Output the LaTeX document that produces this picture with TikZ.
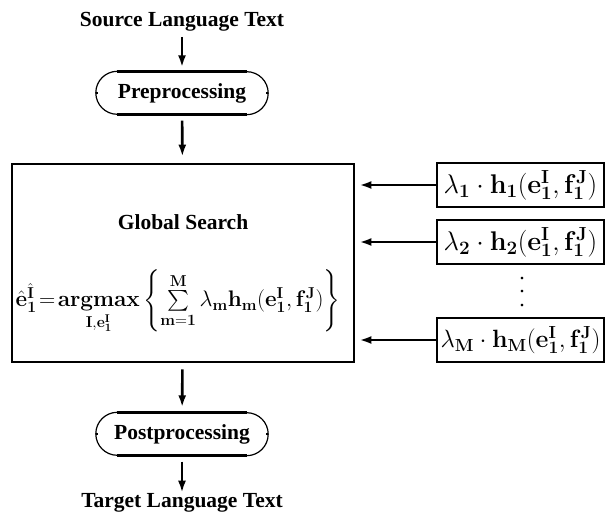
\RequirePackage{fix-cm}
\documentclass[tikz,border=0pt]{standalone}
\usepackage{amsmath}
\usepackage[no-math]{fontspec}
\setmainfont{Liberation Serif}
\usetikzlibrary{arrows.meta}
\newcommand{\bb}[1]{\mathbf{#1}}
\newcommand{\eI}{\bb{e}_{\bb{1}}^{\bb{I}}}
\newcommand{\fJ}{\bb{f}_{\bb{1}}^{\bb{J}}}
\begin{document}
\begin{tikzpicture}[x=1pt,y=1pt,
  lbl/.style={font=\fontsize{21.5}{24}\selectfont\bfseries, inner sep=3pt},
  mth/.style={font=\fontsize{27}{30}\selectfont, inner sep=0pt},
  bigm/.style={font=\fontsize{22.5}{26}\selectfont, inner sep=0pt},
  box/.style={draw, line width=2.8pt},
  fbox/.style={box, minimum width=167pt, minimum height=44pt, inner sep=0pt, mth},
  pill/.style={font=\fontsize{21.5}{24}\selectfont\bfseries, minimum width=172pt, minimum height=43pt, inner sep=0pt},
  arr/.style={line width=2.6pt, -{Latex[length=12pt,width=8pt]}},
  thinl/.style={line width=1.2pt},
  thickl/.style={line width=2.8pt}
]
\useasboundingbox (0,0) rectangle (606,514);

% texts
\node[lbl, anchor=base] (src) at (182,487) {Source Language Text};
\node[lbl, anchor=base] (tgt) at (182,6) {Target Language Text};

% pills
\node[pill] (pre) at (182,421) {Preprocessing};
\node[pill] (post) at (182,80) {Postprocessing};
\foreach \n in {pre,post}{
  \draw[thickl] ([xshift=21.5pt]\n.north west) -- ([xshift=-21.5pt]\n.north east);
  \draw[thickl] ([xshift=21.5pt]\n.south west) -- ([xshift=-21.5pt]\n.south east);
  \draw[thinl] ([xshift=21.5pt]\n.north west) arc (90:270:21.5pt);
  \draw[thinl] ([xshift=-21.5pt]\n.south east) arc (-90:90:21.5pt);
  \draw[thinl] (\n.west) -- ++(2,0);
  \draw[thinl] (\n.east) -- ++(-2,0);
}

% global search box
\node[box, minimum width=342pt, minimum height=198pt, inner sep=0pt] (gs) at (183,251) {};
\node[lbl] (gst) at (183,292) {Global Search};
\node[bigm] (form) at (178,212) {$\hat{\bb{e}}_{\bb{1}}^{\hat{\bb{I}}}\!=\!\mathop{\bb{argmax}}\limits_{\bb{I},\eI}\left\{\textstyle\sum\limits_{\bb{m}=\bb{1}}^{\bb{M}}\lambda_{\bb{m}}\bb{h}_{\bb{m}}(\eI,\fJ)\right\}$};

% feature boxes
\node[fbox] (h1) at (520.5,329) {$\lambda_{\bb{1}}\cdot\bb{h}_{\bb{1}}(\eI,\fJ)$};
\node[fbox] (h2) at (520.5,272) {$\lambda_{\bb{2}}\cdot\bb{h}_{\bb{2}}(\eI,\fJ)$};
\node[fbox, font=\fontsize{25}{30}\selectfont] (hM) at (520.5,174) {$\lambda_{\bb{M}}\cdot\bb{h}_{\bb{M}}(\eI,\fJ)$};
\node[font=\fontsize{22}{13.5}\selectfont, align=center, inner sep=0pt] (dots) at (522,222) {.\\.\\.};

% arrows
\draw[arr, shorten <=2pt, shorten >=4pt] (src) -- (pre);
\draw[arr, shorten <=6pt, shorten >=6pt] (pre) -- (gs);
\draw[arr, shorten <=6pt, shorten >=5pt] (gs) -- (post);
\draw[arr, shorten <=6pt, shorten >=-2pt] (post) -- (tgt);
\draw[arr, shorten >=4pt] (h1.west) -- (h1.west -| gs.east);
\draw[arr, shorten >=4pt] (h2.west) -- (h2.west -| gs.east);
\draw[arr, shorten >=4pt] (hM.west) -- (hM.west -| gs.east);
\end{tikzpicture}
\end{document}
